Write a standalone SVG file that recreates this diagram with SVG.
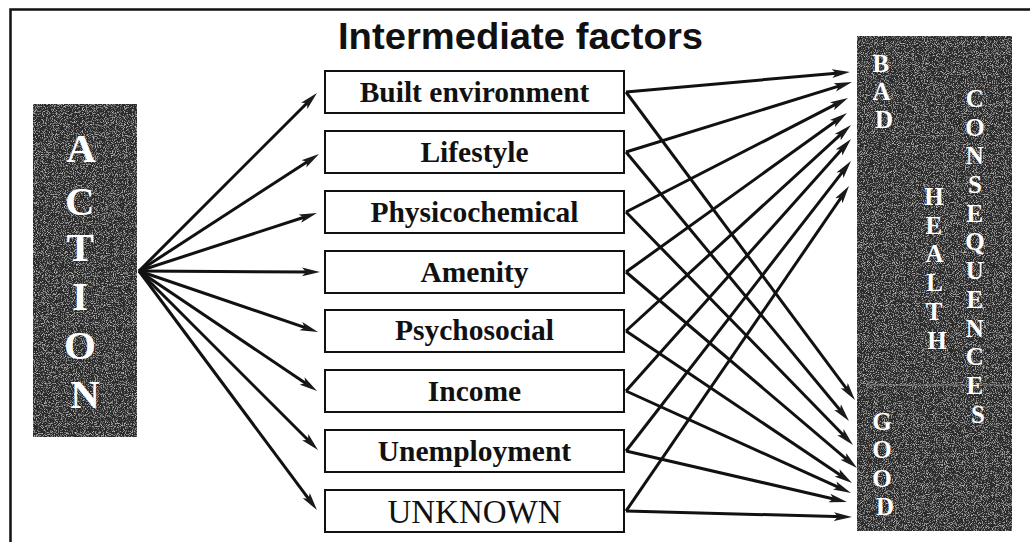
<svg xmlns="http://www.w3.org/2000/svg" width="1030" height="542" viewBox="0 0 1030 542">
  <style>
    .frame { stroke: #111; stroke-width: 2.5; fill: none; }
    .title { font-family: "Liberation Sans", Arial, sans-serif; font-weight: bold; font-size: 36px; fill: #111; }
    .dark { fill: #2a2a2a; }
    .box { fill: #fff; stroke: #111; stroke-width: 2; }
    .lbl { font-family: "Liberation Serif", "Times New Roman", serif; font-weight: bold; font-size: 29.5px; fill: #111; text-anchor: middle; }
    .lbl-plain { font-family: "Liberation Serif", "Times New Roman", serif; font-weight: normal; font-size: 33px; fill: #111; text-anchor: middle; }
    .big { font-family: "Liberation Serif", "Times New Roman", serif; font-weight: bold; font-size: 41px; fill: #fff; text-anchor: middle; }
    .col { font-family: "Liberation Serif", "Times New Roman", serif; font-weight: bold; font-size: 25px; fill: #fff; text-anchor: middle; }
    .arrow { stroke: #111; stroke-width: 3; fill: none; marker-end: url(#head); }
  </style>
  <defs>
    <!-- fine speckled grain for the dark panels -->
    <filter id="grain" x="0" y="0" width="100%" height="100%">
      <feTurbulence type="fractalNoise" baseFrequency="1.1" numOctaves="2" seed="7" result="n"/>
      <feColorMatrix in="n" type="matrix" values="0 0 0 0 0.62  0 0 0 0 0.62  0 0 0 0 0.62  0 0 0 2.6 -1.3" result="spk"/>
      <feComposite in="spk" in2="SourceGraphic" operator="in" result="spk2"/>
      <feMerge>
        <feMergeNode in="SourceGraphic"/>
        <feMergeNode in="spk2"/>
      </feMerge>
    </filter>
    <marker id="head" markerUnits="userSpaceOnUse" viewBox="0 0 18 10" markerWidth="18" markerHeight="10" refX="10" refY="5" orient="auto">
      <path d="M0,0.6 L18,5 L0,9.4 L4,5 z" fill="#1a1a1a"/>
    </marker>
  </defs>

  <rect width="1030" height="542" fill="#fff"/>

  <!-- outer frame (top and left edges) -->
  <path class="frame" d="M10.5,542 V9.5 H1030"/>

  <text class="title" x="338" y="49" textLength="365" lengthAdjust="spacingAndGlyphs">Intermediate factors</text>

  <!-- source panel -->
  <g id="action">
    <rect class="dark" x="33" y="104" width="104" height="333" filter="url(#grain)"/>
    <text class="big">
      <tspan x="85" y="162">A</tspan>
      <tspan x="85" y="215">C</tspan>
      <tspan x="85" y="261">T</tspan>
      <tspan x="85" y="310">I</tspan>
      <tspan x="85" y="359">O</tspan>
      <tspan x="85" y="408">N</tspan>
    </text>
  </g>

  <!-- intermediate factor boxes -->
  <g id="built-environment">
    <rect class="box" x="325" y="71" width="299" height="42"/>
    <text class="lbl" x="474.5" y="102">Built environment</text>
  </g>
  <g id="lifestyle">
    <rect class="box" x="325" y="131" width="299" height="42"/>
    <text class="lbl" x="474.5" y="162">Lifestyle</text>
  </g>
  <g id="physicochemical">
    <rect class="box" x="325" y="191" width="299" height="42"/>
    <text class="lbl" x="474.5" y="222">Physicochemical</text>
  </g>
  <g id="amenity">
    <rect class="box" x="325" y="251" width="299" height="42"/>
    <text class="lbl" x="474.5" y="282">Amenity</text>
  </g>
  <g id="psychosocial">
    <rect class="box" x="325" y="310" width="299" height="42"/>
    <text class="lbl" x="474.5" y="340">Psychosocial</text>
  </g>
  <g id="income">
    <rect class="box" x="325" y="370" width="299" height="42"/>
    <text class="lbl" x="474.5" y="401">Income</text>
  </g>
  <g id="unemployment">
    <rect class="box" x="325" y="430" width="299" height="42"/>
    <text class="lbl" x="474.5" y="461">Unemployment</text>
  </g>
  <g id="unknown">
    <rect class="box" x="325" y="490" width="299" height="42"/>
    <text class="lbl-plain" x="474.5" y="523">UNKNOWN</text>
  </g>

  <!-- outcome panel -->
  <g id="health-consequences">
    <rect class="dark" x="857" y="36" width="155" height="495" filter="url(#grain)"/>
    <line x1="866" y1="385" x2="1010" y2="385" stroke="#9a9a9a" stroke-width="1.2" opacity="0.7"/>
    <text class="col">
      <tspan x="884" y="72">B</tspan>
      <tspan x="884" y="100">A</tspan>
      <tspan x="884" y="128">D</tspan>
    </text>
    <text class="col">
      <tspan x="937" y="205">H</tspan>
      <tspan x="937" y="234">E</tspan>
      <tspan x="937" y="262">A</tspan>
      <tspan x="937" y="291">L</tspan>
      <tspan x="937" y="320">T</tspan>
      <tspan x="937" y="349">H</tspan>
    </text>
    <text class="col">
      <tspan x="978" y="107">C</tspan>
      <tspan x="978" y="136">O</tspan>
      <tspan x="978" y="164">N</tspan>
      <tspan x="978" y="193">S</tspan>
      <tspan x="978" y="222">E</tspan>
      <tspan x="978" y="250">Q</tspan>
      <tspan x="978" y="279">U</tspan>
      <tspan x="978" y="308">E</tspan>
      <tspan x="978" y="337">N</tspan>
      <tspan x="978" y="365">C</tspan>
      <tspan x="978" y="394">E</tspan>
      <tspan x="978" y="423">S</tspan>
    </text>
    <text class="col">
      <tspan x="885" y="430">G</tspan>
      <tspan x="885" y="458">O</tspan>
      <tspan x="885" y="487">O</tspan>
      <tspan x="885" y="515">D</tspan>
    </text>
  </g>

  <!-- connectors -->
  <g id="connectors">
    <!-- action to each factor -->
    <line class="arrow" x1="139" y1="271" x2="311.3" y2="98.7"/>
    <line class="arrow" x1="139" y1="271" x2="312.3" y2="158.4"/>
    <line class="arrow" x1="139" y1="271" x2="309.4" y2="215.5"/>
    <line class="arrow" x1="139" y1="271" x2="312" y2="272"/>
    <line class="arrow" x1="139" y1="271" x2="310.4" y2="329.4"/>
    <line class="arrow" x1="139" y1="271" x2="310.4" y2="386.5"/>
    <line class="arrow" x1="139" y1="271" x2="312.3" y2="444.3"/>
    <line class="arrow" x1="139" y1="271" x2="312.2" y2="503.6"/>

    <!-- each factor to bad outcomes -->
    <line class="arrow" x1="626" y1="92" x2="842.0" y2="72.7"/>
    <line class="arrow" x1="626" y1="152" x2="844.4" y2="84.4"/>
    <line class="arrow" x1="626" y1="212" x2="840.9" y2="101.7"/>
    <line class="arrow" x1="626" y1="272" x2="840.5" y2="117.7"/>
    <line class="arrow" x1="626" y1="331" x2="845.1" y2="130.4"/>
    <line class="arrow" x1="626" y1="391" x2="845.7" y2="145.0"/>
    <line class="arrow" x1="626" y1="451" x2="846.1" y2="167.3"/>
    <line class="arrow" x1="626" y1="511" x2="844.5" y2="192.6"/>

    <!-- each factor to good outcomes -->
    <line class="arrow" x1="626" y1="92" x2="850.2" y2="393.6"/>
    <line class="arrow" x1="626" y1="152" x2="843.9" y2="414.8"/>
    <line class="arrow" x1="626" y1="212" x2="847.4" y2="439.3"/>
    <line class="arrow" x1="626" y1="272" x2="850.9" y2="462.8"/>
    <line class="arrow" x1="626" y1="331" x2="845.4" y2="478.5"/>
    <line class="arrow" x1="626" y1="391" x2="843.7" y2="489.7"/>
    <line class="arrow" x1="626" y1="451" x2="839.2" y2="500.2"/>
    <line class="arrow" x1="626" y1="511" x2="844" y2="516.8"/>
  </g>
</svg>
